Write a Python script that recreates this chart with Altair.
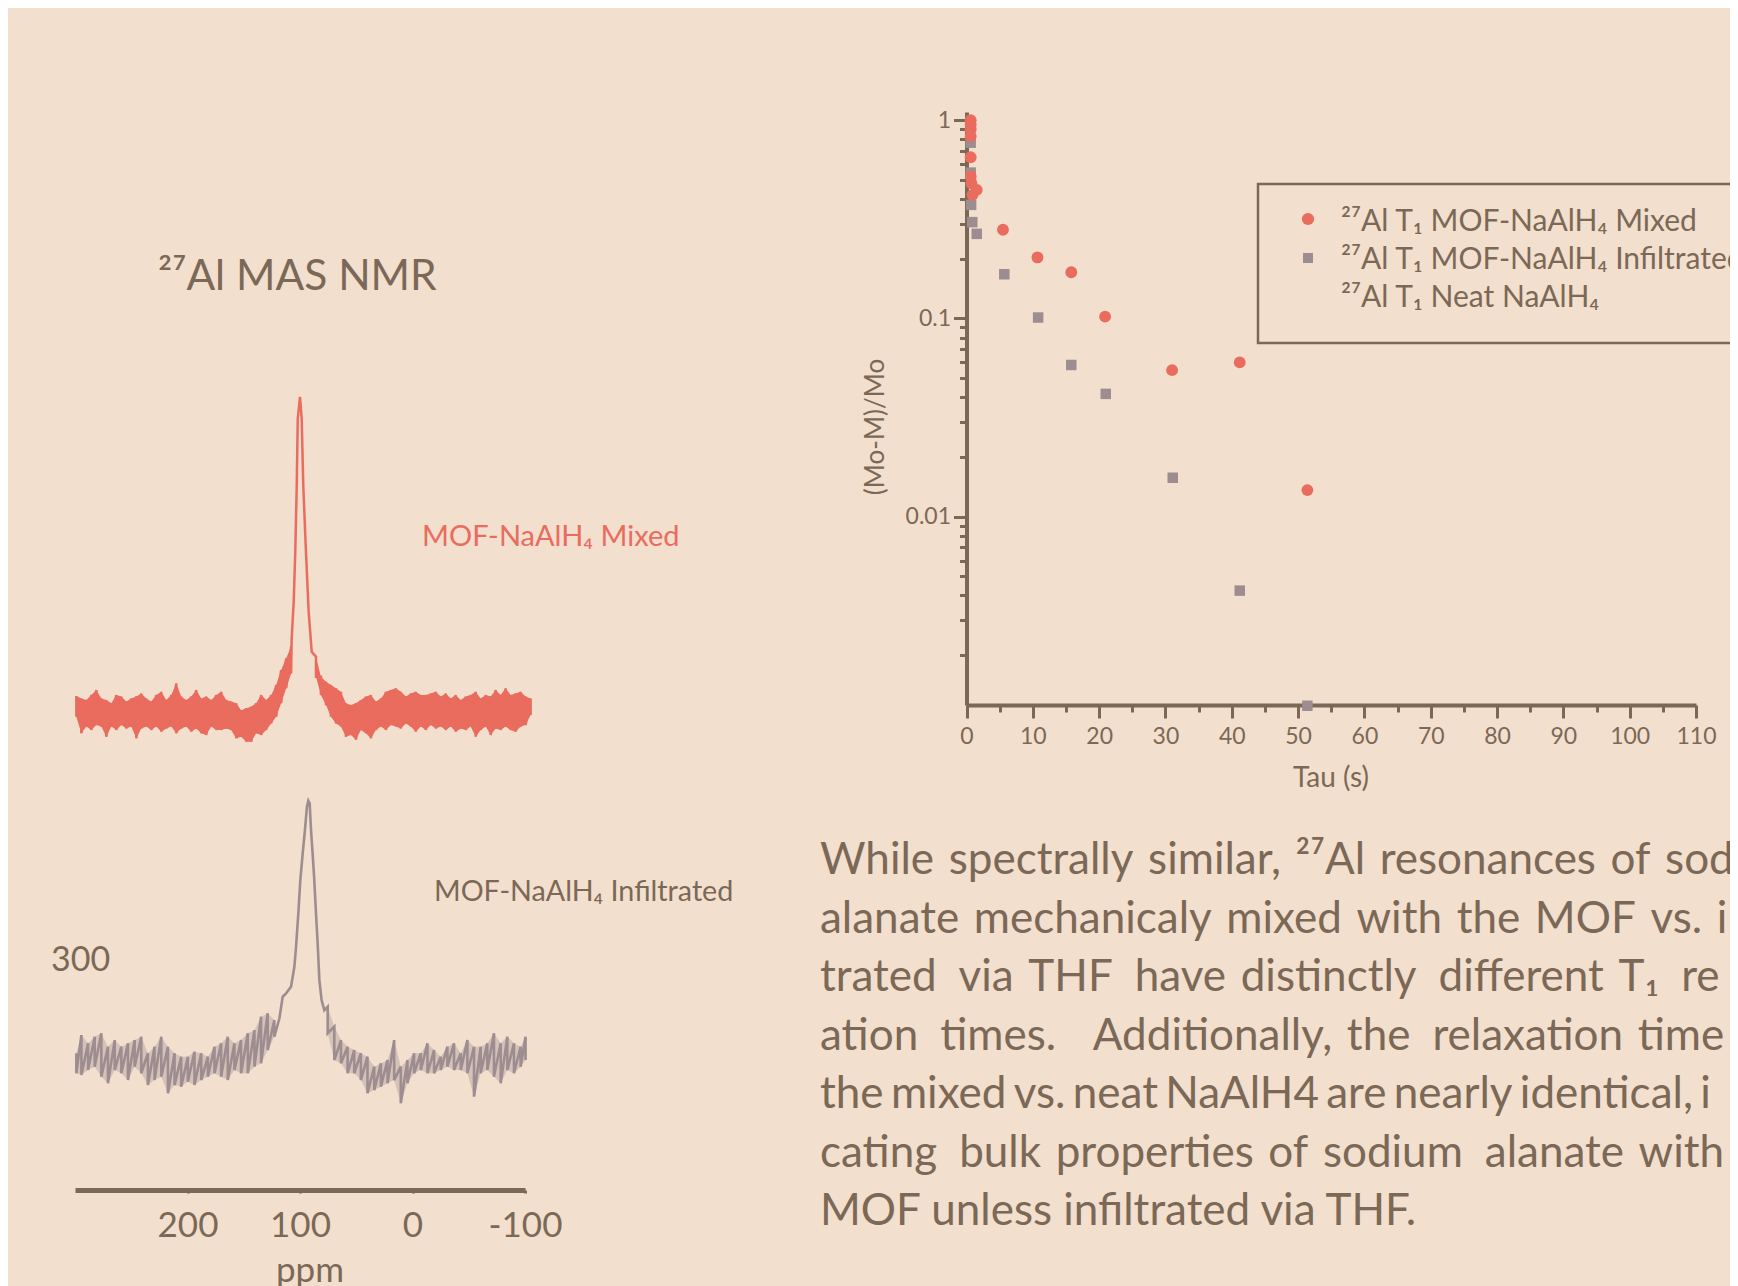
import altair as alt
import pandas as pd

# ---------------- data ----------------
# 27Al MAS NMR spectrum, MOF-NaAlH4 Mixed (intensity in a.u., peak = 100)
mix_left_ppm = [298.8, 294.4, 289.9, 285.5, 281.0, 276.6, 272.2, 267.7, 263.3, 258.8,
                254.4, 250.0, 245.5, 241.1, 236.6, 232.2, 227.8, 223.3, 218.9, 214.4,
                210.0, 205.6, 201.1, 196.7, 192.2, 187.8, 183.4, 178.9, 174.5, 170.0,
                165.6, 161.2, 156.7, 152.3, 147.8, 143.4, 139.0, 134.5, 130.1, 125.6,
                121.2, 116.8, 112.3, 107.9]
mix_left_hi = [5.4, 4.6, 4.1, 5.7, 7.3, 4.6, 4.1, 3.1, 5.7, 5.2,
               3.6, 4.6, 5.2, 6.2, 4.6, 3.6, 5.7, 6.7, 4.1, 5.7,
               9.4, 5.2, 4.1, 5.2, 7.3, 4.6, 5.2, 4.1, 5.7, 6.7,
               4.1, 3.6, 3.1, 0.9, 1.5, 2.0, 3.1, 5.7, 4.1, 5.7,
               8.9, 13.6, 17.3, 21.0]
mix_left_lo = [-1.2, -6.4, -4.3, -5.4, -3.8, -4.3, -7.5, -4.3, -5.4, -3.8,
               -4.9, -4.3, -8.0, -4.9, -4.3, -5.4, -4.3, -5.9, -4.9, -4.3,
               -6.4, -4.9, -4.3, -5.9, -4.9, -6.4, -7.0, -4.3, -5.4, -5.4,
               -4.9, -5.4, -8.0, -7.5, -9.1, -9.1, -6.4, -7.0, -5.4, -3.3,
               -1.2, 3.1, 7.8, 12.5]
mix_right_ppm = [85.8, 81.4, 76.9, 72.5, 68.0, 63.6, 59.2, 54.7, 50.3, 45.9,
                 41.4, 37.0, 32.5, 28.1, 23.7, 19.2, 14.8, 10.4, 5.9, 1.5,
                 -2.9, -7.4, -11.8, -16.3, -20.7, -25.1, -29.6, -34.0, -38.4, -42.9,
                 -47.3, -51.7, -56.2, -60.6, -65.1, -69.5, -73.9, -78.4, -82.8, -87.2,
                 -91.7, -96.1, -100.5, -105.0]
mix_right_hi = [17.8, 11.5, 9.9, 8.9, 7.8, 6.7, 3.1, 2.5, 3.1, 4.1,
                5.2, 5.7, 3.6, 4.6, 6.7, 7.3, 7.8, 6.7, 5.2, 6.2,
                6.7, 5.7, 5.7, 6.2, 6.7, 5.2, 6.2, 4.6, 5.7, 4.1,
                5.2, 5.7, 6.7, 4.6, 5.7, 5.2, 7.3, 5.7, 7.8, 5.7,
                6.2, 6.7, 5.2, 4.6]
mix_right_lo = [11.5, 5.7, 2.5, -1.2, -3.3, -4.3, -7.5, -7.0, -8.5, -5.4,
                -6.4, -8.0, -5.4, -4.3, -5.4, -3.8, -4.3, -4.9, -3.3, -4.3,
                -5.9, -4.3, -5.4, -3.8, -4.9, -4.3, -5.4, -4.3, -5.9, -4.9,
                -5.4, -4.3, -7.5, -5.4, -4.3, -7.0, -4.9, -5.4, -4.3, -5.4,
                -5.9, -4.3, -3.8, -0.6]
mix_peak_ppm = [115.4, 110.9, 107.4, 105.6, 104.2, 102.9, 102.0, 100.0,
                98.5, 97.1, 94.7, 92.3, 89.6, 84.3]
mix_peak_int = [12.0, 16.2, 23.6, 35.2, 51.0, 72.1, 93.2, 100.0,
                93.2, 72.1, 51.0, 32.0, 19.4, 12.0]

# 27Al MAS NMR spectrum, MOF-NaAlH4 Infiltrated (local maxima / minima of the noisy trace)
inf_left_ppm = [298.8, 294.3, 288.4, 282.5, 276.6, 270.7, 264.7, 258.8, 252.9, 247.0,
                241.1, 235.2, 229.3, 223.3, 217.4, 211.5, 205.6, 199.7, 193.8, 187.8,
                181.9, 176.0, 170.1, 164.2, 158.3, 152.4, 146.4, 140.5, 134.6, 128.7,
                122.8]
inf_left_hi = [3.7, 10.6, 7.5, 10.0, 11.3, 6.2, 8.7, 6.2, 7.5, 8.7,
               10.0, 3.7, 6.2, 10.0, 6.2, 3.7, 2.4, 2.4, 4.3, 3.7,
               2.4, 6.2, 7.5, 10.0, 7.5, 8.7, 11.3, 12.5, 17.6, 18.9,
               16.3]
inf_left_lo = [-3.9, -4.6, -2.7, -1.4, -5.2, -7.7, -2.7, -3.9, -6.5, -1.4,
               -3.9, -8.4, -6.5, -5.2, -11.5, -8.4, -9.0, -7.1, -8.4, -6.5,
               -5.2, -3.9, -5.2, -6.5, -2.7, -3.9, -3.9, -1.4, -0.1, 4.9,
               10.0]
inf_right_ppm = [75.4, 69.5, 63.6, 57.7, 51.8, 45.9, 40.0, 34.0, 28.1, 22.2,
                 16.3, 10.4, 4.5, -1.4, -7.4, -13.3, -19.2, -25.1, -31.0, -36.9,
                 -42.9, -48.8, -54.7, -60.6, -66.5, -72.4, -78.4, -84.3, -90.2, -96.1,
                 -100.5]
inf_right_hi = [21.4, 13.8, 8.7, 6.2, 4.9, 3.7, 2.4, -1.4, -0.1, 1.1,
                8.7, -1.4, 1.1, 3.7, 3.7, 7.5, 4.9, 2.4, 6.2, 7.5,
                3.7, 8.7, 6.2, 6.2, 7.5, 11.3, 7.5, 10.0, 7.5, 6.2,
                10.0]
inf_right_lo = [11.3, 1.1, -0.1, -3.9, -3.9, -6.5, -11.5, -10.3, -9.0, -7.7,
                -6.5, -15.3, -7.7, -3.9, -2.7, -3.9, -3.9, -2.7, -1.4, -2.7,
                -2.7, -3.9, -12.8, -3.9, -2.7, -5.2, -7.7, -2.7, -3.9, -1.4,
                1.1]
inf_peak_ppm = [118.3, 115.4, 112.4, 108.0, 105.0, 103.5, 101.5, 99.7,
                97.6, 95.6, 93.8, 92.6, 91.4, 90.2, 88.8, 87.3, 85.8, 84.3,
                82.8, 80.8, 78.4]
inf_peak_int = [17.0, 25.2, 26.5, 29.0, 36.6, 44.2, 56.9, 69.6,
                79.7, 88.6, 97.5, 99.7, 98.7, 88.6, 79.7, 69.6, 56.9, 45.5,
                31.6, 23.9, 20.1]

nmr_ticks = [200, 100, 0, -100]

# 27Al T1 relaxation
series_names = ["27Al T1 MOF-NaAlH4 Mixed", "27Al T1 MOF-NaAlH4 Infiltrated"]
tau_mixed = [0.63, 0.63, 0.63, 0.63, 0.63, 0.63, 0.75, 1.55, 0.9,
             5.5, 10.7, 15.8, 20.9, 31.0, 41.2, 51.4]
m_mixed = [1.0, 0.95, 0.90, 0.83, 0.65, 0.52, 0.48, 0.445, 0.42,
           0.28, 0.203, 0.171, 0.102, 0.0548, 0.060, 0.0136]
tau_infil = [0.63, 0.63, 0.7, 0.87, 1.55, 5.7, 10.8, 15.8, 21.0, 31.1, 41.2, 51.4]
m_infil = [0.77, 0.544, 0.374, 0.306, 0.267, 0.167, 0.101, 0.0582, 0.0416,
           0.0157, 0.00423, 0.00111]

tau_ticks = [0, 5, 10, 15, 20, 25, 30, 35, 40, 45, 50, 55, 60, 65, 70, 75, 80,
             85, 90, 95, 100, 105, 110]
m_ticks = [1, 0.9, 0.8, 0.7, 0.6, 0.5, 0.4, 0.3, 0.2,
           0.1, 0.09, 0.08, 0.07, 0.06, 0.05, 0.04, 0.03, 0.02,
           0.01, 0.009, 0.008, 0.007, 0.006, 0.005, 0.004, 0.003, 0.002]

title_text = "²⁷Al MAS NMR"
label_mixed = "MOF-NaAlH₄ Mixed"
label_infil = "MOF-NaAlH₄ Infiltrated"
legend_lines = ["²⁷Al T₁ MOF-NaAlH₄ Mixed",
                "²⁷Al T₁ MOF-NaAlH₄ Infiltrated",
                "²⁷Al T₁ Neat NaAlH₄"]
S3 = "\u2004"   # three-per-em space (justified lines)
EN = "\u2002"   # en space (widely justified lines)
S6 = "\u2006"   # six-per-em space (tight line)
paragraph = [S3.join(["While", "spectrally", "similar,", "²⁷Al", "resonances", "of", "sod"]),
             S3.join(["alanate", "mechanicaly", "mixed", "with", "the", "MOF", "vs.", "i"]),
             "trated" + EN + "via" + S3 + "THF" + EN + "have" + S3 + "distinctly" + EN + "different" + S3 + "T₁" + EN + "re",
             "ation" + EN + "times." + EN + S3 + "Additionally," + S3 + "the" + EN + "relaxation" + S3 + "time",
             S6.join(["the", "mixed", "vs.", "neat", "NaAlH4", "are", "nearly", "identical,", "i"]),
             "cating" + EN + "bulk" + S3 + "properties" + S3 + "of" + S3 + "sodium" + EN + "alanate" + S3 + "with",
             "MOF unless infiltrated via THF."]

# ---------------- styling ----------------
BG = "#f2dfce"
BROWN = "#7b6856"
RED = "#e96c5e"
GREY = "#9d8d90"
FONT = "Lato"
W, H = 1722, 1278

one = pd.DataFrame({"k": [0]})


def band_df(lp, lh, ll, rp, rh, rl):
    a = pd.DataFrame({"ppm": lp, "hi": lh, "lo": ll, "side": "left"})
    b = pd.DataFrame({"ppm": rp, "hi": rh, "lo": rl, "side": "right"})
    return pd.concat([a, b], ignore_index=True)


def trace_df(lp, lh, ll, pp, pi, rp, rh, rl):
    """Noisy trace: each read maximum followed by the read minimum, then the peak."""
    rows = []
    for p, h, l in zip(lp, lh, ll):
        rows += [(p, h), (p, l)]
    rows += list(zip(pp, pi))
    for p, h, l in zip(rp, rh, rl):
        rows += [(p, h), (p, l)]
    df = pd.DataFrame(rows, columns=["ppm", "int"])
    df["idx"] = range(len(df))
    return df


def text_layer(txt, x, y, size, color=BROWN, align="left", angle=None, baseline="alphabetic", font=FONT):
    kw = dict(text=txt, font=font, fontSize=size, color=color, align=align, baseline=baseline)
    if angle is not None:
        kw["angle"] = angle
    return alt.Chart(one).mark_text(**kw).encode(x=alt.value(x), y=alt.value(y))


nmr_x_range = [67, 517]


def nmr_x(axis=None):
    return alt.X("ppm:Q", scale=alt.Scale(domain=[300, -100], range=nmr_x_range, nice=False, zero=False),
                 axis=axis)


mix_y = alt.Scale(domain=[0, 100], range=[705, 389], zero=False, nice=False)
inf_y = alt.Scale(domain=[0, 100], range=[1055, 792], zero=False, nice=False)

mix_band = alt.Chart(band_df(mix_left_ppm, mix_left_hi, mix_left_lo,
                             mix_right_ppm, mix_right_hi, mix_right_lo)).mark_area(
    color=RED, opacity=1).encode(
    x=nmr_x(), y=alt.Y("hi:Q", scale=mix_y, axis=None), y2="lo:Q", detail="side:N")

mix_trace = alt.Chart(trace_df(mix_left_ppm, mix_left_hi, mix_left_lo,
                               mix_peak_ppm[2:-1], mix_peak_int[2:-1],
                               mix_right_ppm, mix_right_hi, mix_right_lo)).mark_line(
    color=RED, strokeWidth=2.5, strokeJoin="miter").encode(
    x=nmr_x(), y=alt.Y("int:Q", scale=mix_y, axis=None), order="idx:Q")

nmr_axis = alt.Axis(orient="bottom", offset=1182 - H, values=nmr_ticks, title=None,
                    labelExpr="'' + datum.value",
                    domainColor=BROWN, domainWidth=5, tickColor=BROWN, tickSize=3, tickWidth=3,
                    labelFont=FONT, labelFontSize=35, labelColor=BROWN, labelBaseline="alphabetic",
                    labelPadding=43, labelOverlap=False, labelFlush=False, grid=False)

inf_band = alt.Chart(band_df(inf_left_ppm, inf_left_hi, inf_left_lo,
                             inf_right_ppm, inf_right_hi, inf_right_lo)).mark_area(
    color=GREY, opacity=0.35).encode(
    x=nmr_x(), y=alt.Y("hi:Q", scale=inf_y, axis=None), y2="lo:Q", detail="side:N")

inf_trace = alt.Chart(trace_df(inf_left_ppm, inf_left_hi, inf_left_lo,
                               inf_peak_ppm, inf_peak_int,
                               inf_right_ppm, inf_right_hi, inf_right_lo)).mark_line(
    color=GREY, strokeWidth=2.6).encode(
    x=nmr_x(nmr_axis), y=alt.Y("int:Q", scale=inf_y, axis=None), order="idx:Q")

# scatter
sc_df = pd.concat([
    pd.DataFrame({"tau": tau_infil, "m": m_infil, "series": series_names[1]}),
    pd.DataFrame({"tau": tau_mixed, "m": m_mixed, "series": series_names[0]}),
], ignore_index=True)

x_axis = alt.Axis(orient="bottom", offset=697 - H, values=tau_ticks, title=None,
                  labelExpr="datum.value % 10 == 0 ? datum.label : ''",
                  tickSize={"condition": {"test": "datum.value % 10 == 0", "value": 13}, "value": 7},
                  tickWidth=3, tickColor=BROWN, domainColor=BROWN, domainWidth=4,
                  labelFont=FONT, labelFontSize=23, labelColor=BROWN, labelBaseline="alphabetic",
                  labelPadding=25, labelOverlap=False, labelFlush=False, grid=False)
y_axis = alt.Axis(orient="left", offset=-958.5, values=m_ticks, title=None,
                  labelExpr="datum.value == 1 ? '1' : (datum.value == 0.1 ? '0.1' : (datum.value == 0.01 ? '0.01' : ''))",
                  tickSize={"condition": {"test": "datum.value == 1 || datum.value == 0.1 || datum.value == 0.01",
                                          "value": 13}, "value": 7},
                  tickWidth=3, tickColor=BROWN, domainColor=BROWN, domainWidth=4,
                  labelFont=FONT, labelFontSize=23, labelColor=BROWN,
                  labelPadding=3, labelOverlap=False, labelFlush=False, grid=False)

scatter = alt.Chart(sc_df).mark_point(filled=True, opacity=1, strokeWidth=0).encode(
    x=alt.X("tau:Q", scale=alt.Scale(domain=[0, 110], range=[958.5, 1688], nice=False, zero=False), axis=x_axis),
    y=alt.Y("m:Q", scale=alt.Scale(type="log", domain=[0.00112, 1.1], range=[697, 104], nice=False), axis=y_axis),
    color=alt.Color("series:N", scale=alt.Scale(domain=series_names, range=[RED, GREY]), legend=None),
    shape=alt.Shape("series:N", scale=alt.Scale(domain=series_names, range=["circle", "square"]), legend=None),
    size=alt.Size("series:N", scale=alt.Scale(domain=series_names, range=[140, 110]), legend=None),
)

legend_box = alt.Chart(one).mark_rect(fillOpacity=0, stroke=BROWN, strokeWidth=2.5).encode(
    x=alt.value(1250), x2=alt.value(1800), y=alt.value(176), y2=alt.value(335))
legend_dot = alt.Chart(one).mark_point(shape="circle", filled=True, opacity=1, color=RED, size=150).encode(
    x=alt.value(1300), y=alt.value(211))
legend_sq = alt.Chart(one).mark_point(shape="square", filled=True, opacity=1, color=GREY, size=100).encode(
    x=alt.value(1300), y=alt.value(250))

texts = [
    text_layer(title_text, 150, 282, 42.5),
    text_layer(label_mixed, 414, 538, 29, color=RED),
    text_layer(label_infil, 426, 893, 28.7),
    text_layer("300", 43, 963, 34),
    text_layer("ppm", 302, 1274, 35, align="center"),
    text_layer("Tau (s)", 1323, 779, 28, align="center"),
    text_layer("(Mo-M)/Mo", 867.5, 419, 26, align="center", angle=270, baseline="middle"),
]
for i, line in enumerate(legend_lines):
    texts.append(text_layer(line, 1333, [223, 261, 299][i], 30))
for i, line in enumerate(paragraph):
    texts.append(text_layer(line, 812, 866 + 58.5 * i, 44))

chart = alt.layer(
    mix_band, mix_trace, inf_band, inf_trace, scatter, legend_box, legend_dot, legend_sq, *texts
).resolve_scale(
    x="independent", y="independent", color="independent", shape="independent", size="independent"
).properties(
    width=W, height=H, background=BG, padding=0,
    autosize=alt.AutoSizeParams(type="none")
).configure_view(stroke=None, fill=BG)

chart.save("out.html", embed_options={"renderer": "svg", "actions": False})
